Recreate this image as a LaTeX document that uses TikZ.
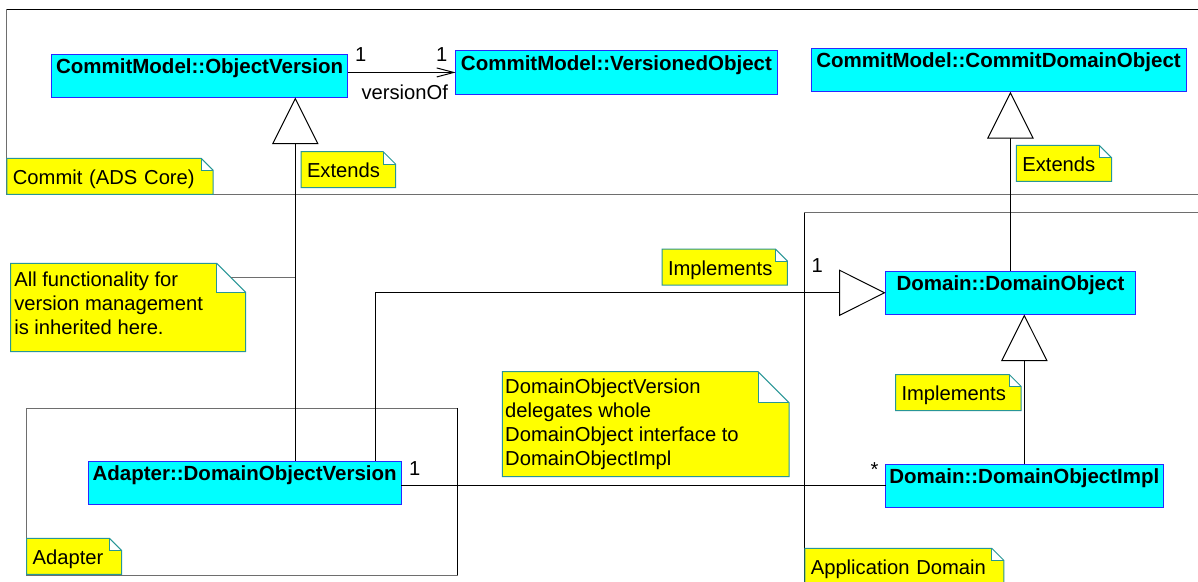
\documentclass[tikz,border=0pt]{standalone}
\usepackage{fontspec}
\setmainfont{Liberation Sans}
\usetikzlibrary{arrows.meta,calc}
\definecolor{clsfill}{RGB}{0,255,255}
\definecolor{clsline}{RGB}{40,40,255}
\definecolor{notefill}{RGB}{255,255,0}
\definecolor{noteline}{RGB}{40,150,150}
\definecolor{framegray}{RGB}{110,110,110}
\newcommand{\clsfont}{\fontsize{20.5}{24}\selectfont\bfseries}
\newcommand{\ntfont}{\fontsize{20.2}{24}\selectfont}
\newcommand{\notedeco}[2]{%
  \fill[white] ($(#1.north east)+(-#2,0)$) rectangle ($(#1.north east)+(0,#2)$);
  \draw[noteline] (#1.north west) -- ($(#1.north east)+(-#2,0)$) -- ($(#1.north east)+(0,#2)$) -- (#1.south east) -- (#1.south west) -- cycle;
  \draw[noteline] ($(#1.north east)+(-#2,0)$) |- ($(#1.north east)+(0,#2)$);
}
\tikzset{
  cls/.style={draw=clsline, fill=clsfill, anchor=north, font=\clsfont, inner xsep=0pt, inner ysep=3pt, text height=16.5pt, text depth=21pt, outer sep=0pt},
  note/.style={fill=notefill, anchor=north west, inner xsep=6pt, inner ysep=5pt, text height=21pt, text depth=5pt, align=left, font=\ntfont, outer sep=0pt},
  bignote/.style={fill=notefill, anchor=north west, inner sep=0pt, outer sep=0pt},
  ntext/.style={anchor=north west, inner sep=0pt, align=left, font=\ntfont},
  lab/.style={font=\ntfont, inner sep=0pt, anchor=base west},
  gen/.style={-{Triangle[fill=white, length=46.7pt, width=46.5pt]}},
  assoc/.style={-{Straight Barb[length=17pt, width=9pt]}},
}
\begin{document}
\begin{tikzpicture}[x=1pt, y=-1pt, line width=1pt]
\useasboundingbox (0,0) rectangle (1198,581);
\clip (0,0) rectangle (1198,581);
\fill[white] (0,0) rectangle (1198,581);

% package frames
\draw[black] (6.9,9.3) -- (1210,9.3);
\draw[framegray] (6.9,9.3) -- (6.9,194.3) -- (1210,194.3);
\draw[framegray] (457.7,408.3) -- (26,408.3) -- (26,575) -- (457.7,575);
\draw[black] (457.7,408.3) -- (457.7,575);
\draw[black] (804.4,600) -- (804.4,212.7);
\draw[framegray] (804.4,212.7) -- (1210,212.7);

% classes
\node[cls, minimum width=295.8pt] (ov) at (199.6,54) {CommitModel::ObjectVersion};
\node[cls, minimum width=321.5pt] (vo) at (616.45,50.7) {CommitModel::VersionedObject};
\node[cls, minimum width=375pt] (cdo) at (998.5,48.3) {CommitModel::CommitDomainObject};
\node[cls, minimum width=249.5pt] (do) at (1010.45,271) {Domain::DomainObject};
\node[cls, minimum width=277.3pt] (doi) at (1024.35,464) {Domain::DomainObjectImpl};
\node[cls, minimum width=312.7pt] (dov) at (244.65,461) {Adapter::DomainObjectVersion};

% notes
\node[note, text width=194.3pt] (ncommit) at (6.9,158.3) {Commit (ADS Core)};
\notedeco{ncommit}{12}
\node[note, text width=82.7pt] (next1) at (301,151.7) {Extends};
\notedeco{next1}{12.5}
\node[note, text width=83.4pt] (next2) at (1016.3,145.3) {Extends};
\notedeco{next2}{12.5}
\node[note, text width=113.4pt] (nimpl1) at (662,249) {Implements};
\notedeco{nimpl1}{12}
\node[note, text width=113.7pt] (nimpl2) at (895.5,374.5) {Implements};
\notedeco{nimpl2}{12}
\node[note, text width=83pt] (nadapter) at (26.7,538.3) {Adapter};
\notedeco{nadapter}{12.3}
\node[note, text width=187pt] (nappdom) at (804.8,548.3) {Application Domain};
\notedeco{nappdom}{12}

\node[bignote, minimum width=235pt, minimum height=88.4pt] (nbig1) at (10.7,263.3) {};
\notedeco{nbig1}{29}
\node[ntext] (tbig1) at ($(nbig1.north west)+(3.1,6.7)$) {\rule{0pt}{16pt}All functionality for\\version management\\is inherited here.};
\node[bignote, minimum width=286.7pt, minimum height=105pt] (nbig2) at (502.3,371.7) {};
\notedeco{nbig2}{31}
\node[ntext] (tbig2) at ($(nbig2.north west)+(2.4,5.6)$) {\rule{0pt}{16pt}DomainObjectVersion\\delegates whole\\DomainObject interface to\\DomainObjectImpl};

% helper coordinates
\coordinate (gx1) at (295.3,0);
\coordinate (ix) at (375.3,0);
\coordinate (nc) at ($(nbig1.north east)+(-14.6,14.4)$);

% connectors
\draw[assoc] (ov.east |- vo.west) -- (vo.west);
\draw[gen] (dov.north -| gx1) -- (ov.south -| gx1);
\draw[framegray] (nc) -- (nc -| gx1);
\draw[gen] (dov.north -| ix) |- (do.west);
\draw[gen] (do.north) -- (do.north |- cdo.south);
\draw[gen] (doi.north) -- (doi.north |- do.south);
\draw (dov.east |- doi.west) -- (doi.west);

% labels
\node[lab] (m1) at (354.6,61.7) {1};
\node[lab] (m2) at (435.6,61.7) {1};
\node[lab] (vof) at (361,99) {versionOf};
\node[lab] (m3) at (408.5,475) {1};
\node[lab] (m4) at (811,272.7) {1};
\node[lab] (m5) at (870,476) {*};
\end{tikzpicture}
\end{document}
